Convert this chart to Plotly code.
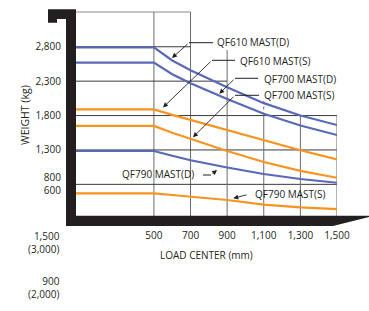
import plotly.graph_objects as go

# ---------------- data ----------------
load_center = [0, 500, 600, 700, 900, 1100, 1300, 1500]
qf610_d = [2790, 2790, 2600, 2460, 2210, 1980, 1800, 1662]
qf610_s = [2570, 2570, 2400, 2270, 2040, 1825, 1655, 1517]
qf700_d = [1890, 1890, 1810, 1735, 1590, 1440, 1295, 1163]
qf700_s = [1650, 1650, 1550, 1460, 1285, 1125, 996, 896]
qf790_d = [1285, 1285, 1215, 1150, 1045, 950, 878, 823]
qf790_s = [670, 670, 645, 620, 573, 505, 466, 441]

x_ticks = [500, 700, 900, 1100, 1300, 1500]
x_tick_text = ["500", "700", "900", "1,100", "1,300", "1,500"]
y_grid = [2800, 2300, 1800, 1300, 800]
y_tick_text = ["2,800", "2,300", "1,800", "1,300", "800", "600"]
extra_labels = ["1,500<br>(3,000)", "900<br>(2,000)"]
series_names = ["QF610 MAST(D)", "QF610 MAST(S)", "QF700 MAST(D)",
                "QF700 MAST(S)", "QF790 MAST(D)", "QF790 MAST(S)"]

BLUE = "#5a68b8"
ORANGE = "#f7941d"
FONT = "Open Sans"
TXT = "#231f20"

# layout geometry (pixels)
W, H = 369, 311
L, R, T, B = 76, 32, 12, 95
PW, PH = W - L - R, H - T - B
XR = [74.5, 1500]
YR = [340, 3305]


def px(x):
    return (x - L) / PW


def py(y):
    return (H - B - y) / PH


def yval(ypix):
    return YR[0] + (H - B - ypix) / PH * (YR[1] - YR[0])


fig = go.Figure()
series = [qf610_d, qf610_s, qf700_d, qf700_s, qf790_d, qf790_s]
colors = [BLUE, BLUE, ORANGE, ORANGE, BLUE, ORANGE]
for name, vals, col in zip(series_names, series, colors):
    fig.add_trace(go.Scatter(x=load_center, y=vals, mode="lines", name=name,
                             line=dict(color=col, width=2.2), hoverinfo="skip"))

shapes = []
HCOL, VCOL = "#3a3a3a", "#6b6b6b"
# stepped grid: horizontal lines
h_extent = {2800: 700, 2300: 900, 1800: 1500, 1300: 1500, 800: 1500}
for v in y_grid:
    shapes.append(dict(type="line", xref="x", yref="y", x0=XR[0], x1=h_extent[v],
                       y0=v, y1=v, line=dict(color=HCOL, width=1), layer="below"))
# top border line
shapes.append(dict(type="line", xref="x", yref="paper", x0=XR[0], x1=700, y0=1, y1=1,
                   line=dict(color="#8a8a8a", width=1), layer="below"))
# vertical lines
v_top = {500: None, 700: None, 900: yval(50), 1100: 1800, 1300: 1800, 1500: 1800}
for xv in x_ticks:
    top = v_top[xv]
    if top is None:
        shapes.append(dict(type="line", xref="x", yref="paper", x0=xv, x1=xv, y0=0, y1=1,
                           line=dict(color=VCOL, width=1), layer="below"))
    else:
        shapes.append(dict(type="line", xref="x", yref="y", x0=xv, x1=xv, y0=YR[0], y1=top,
                           line=dict(color=VCOL, width=1), layer="below"))
shapes.append(dict(type="line", xref="x", yref="y", x0=1100, x1=1100, y0=1800, y1=yval(101),
                   line=dict(color=VCOL, width=1, dash="dot"), layer="below"))

# black frame
def path(pts):
    s = "M " + " L ".join(f"{px(a):.5f},{py(b):.5f}" for a, b in pts) + " Z"
    return s

frame_left = [(48, 9.3), (76, 9.3), (76, 226), (66, 226), (66, 19), (57, 19), (57, 22.7), (48, 22.7)]
frame_bottom = [(66, 215.7), (369, 215.7), (369, 217), (333, 226), (66, 226)]
for pts in (frame_left, frame_bottom):
    shapes.append(dict(type="path", xref="paper", yref="paper", path=path(pts),
                       fillcolor="#231f20", line=dict(width=0), layer="above"))

# leader lines (horizontal parts)
leaders = [((213, 42.7), (189, 42.7)), ((235, 60.3), (212, 60.3)),
           ((258, 78.3), (235, 78.3)), ((259, 95.3), (235, 95.3)),
           ((203, 175), (211, 175))]
for (a, b) in leaders:
    shapes.append(dict(type="line", xref="paper", yref="paper",
                       x0=px(a[0]), y0=py(a[1]), x1=px(b[0]), y1=py(b[1]),
                       line=dict(color=TXT, width=1)))

annotations = []
# arrows: (start, tip)
arrows = [((189, 42.7), (172, 58)), ((212, 60.3), (163, 107.5)),
          ((235, 78.3), (219.3, 93.7)), ((235, 95.3), (193, 137.3)),
          ((211, 175), (217, 170)), ((248, 194.5), (233.3, 198.3))]
for (s, t) in arrows:
    annotations.append(dict(xref="paper", yref="paper", x=px(t[0]), y=py(t[1]),
                            ax=s[0] - t[0], ay=s[1] - t[1], axref="pixel", ayref="pixel",
                            text="", showarrow=True, arrowhead=2, arrowsize=1.1,
                            arrowwidth=0.9, arrowcolor=TXT))

# series labels
label_pos = [(215, 42.3, "left"), (238, 60.5, "left"), (261.5, 79, "left"),
             (261.5, 95, "left"), (196, 174, "right"), (252.5, 194.3, "left")]
for name, (lx, ly, anc) in zip(series_names, label_pos):
    annotations.append(dict(xref="paper", yref="paper", x=px(lx), y=py(ly),
                            xanchor=anc, yanchor="middle", text=name, showarrow=False,
                            font=dict(family=FONT, size=10, color=TXT)))

# extra left labels
for txt, cy in zip(extra_labels, [242.5, 287]):
    annotations.append(dict(xref="paper", yref="paper", x=px(61.5), y=py(cy),
                            xanchor="right", yanchor="middle", align="right", text=txt,
                            showarrow=False, font=dict(family=FONT, size=10, color=TXT)))

# axis titles
annotations.append(dict(xref="paper", yref="paper", x=px(206), y=py(255),
                        xanchor="center", yanchor="middle", text="LOAD CENTER (mm)",
                        showarrow=False, font=dict(family=FONT, size=10, color=TXT)))
annotations.append(dict(xref="paper", yref="paper", x=px(25), y=py(115),
                        xanchor="center", yanchor="middle", text="WEIGHT (kg)", textangle=-90,
                        showarrow=False, font=dict(family=FONT, size=10.5, color=TXT)))

fig.update_layout(
    width=W, height=H,
    margin=dict(l=L, r=R, t=T, b=B, pad=0),
    paper_bgcolor="white", plot_bgcolor="white",
    showlegend=False,
    shapes=shapes, annotations=annotations,
    font=dict(family=FONT, size=10, color=TXT),
    xaxis=dict(range=XR, showgrid=False, zeroline=False, showline=False,
               tickvals=x_ticks, ticktext=x_tick_text, ticks="",
               ticklabelstandoff=12, tickfont=dict(size=10)),
    yaxis=dict(range=YR, showgrid=False, zeroline=False, showline=False,
               tickvals=[2800, 2300, 1800, 1300, yval(177), yval(190)],
               ticktext=y_tick_text, ticks="", ticklabelstandoff=14,
               tickfont=dict(size=10)),
)

fig.write_html("out.html", config={"displayModeBar": False, "staticPlot": True},
               post_script="document.body.style.margin='0';document.body.style.padding='0';")
